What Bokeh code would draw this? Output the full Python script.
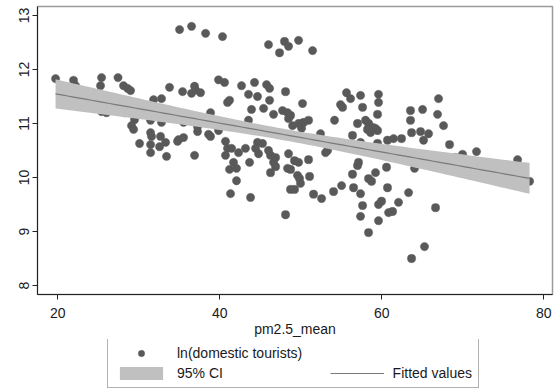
import numpy as np
from bokeh.plotting import figure
from bokeh.layouts import column
from bokeh.models import Legend, LegendItem, FixedTicker, Range1d
from bokeh.embed import file_html
from bokeh.resources import INLINE

# ---- data ----
pm25 = [19.72, 21.94, 22.19, 25.40, 25.27, 27.43, 28.11, 28.61, 28.98, 25.40,
        26.01, 28.24, 29.47, 29.10, 29.35, 30.09, 31.45, 31.45, 32.56, 33.30,
        33.42, 34.78, 31.82, 32.80, 33.79, 35.40, 31.45, 32.80, 31.45, 31.57,
        32.68, 35.03, 36.51, 38.24, 40.33, 39.84, 40.58, 42.68, 36.51, 36.88,
        37.00, 37.62, 40.95, 41.20, 38.85, 35.52, 37.25, 37.25, 38.61, 38.85,
        39.84, 34.90, 35.52, 36.88, 40.70, 40.95, 41.45, 40.70, 42.31, 41.69,
        41.20, 42.06, 42.06, 41.32, 43.17, 46.01, 47.37, 47.99, 48.48, 49.72,
        51.45, 44.28, 45.77, 46.14, 43.54, 44.65, 48.11, 46.14, 43.91, 45.40,
        46.63, 47.74, 48.36, 48.73, 48.48, 50.21, 48.98, 49.72, 50.33, 50.95,
        50.09, 52.43, 54.16, 54.90, 55.15, 55.64, 44.65, 45.27, 44.41, 44.78,
        43.67, 46.01, 46.26, 46.88, 46.63, 46.88, 46.26, 48.48, 49.22, 49.72,
        50.95, 48.36, 48.73, 49.59, 49.84, 49.96, 51.08, 48.73, 49.22, 51.57,
        52.56, 54.04, 55.03, 43.79, 48.11, 53.05, 53.30, 43.54, 56.14, 57.37,
        59.59, 59.59, 57.62, 59.47, 57.99, 58.36, 57.00, 58.23, 58.61, 59.22,
        59.47, 58.85, 56.38, 60.70, 61.45, 62.43, 63.54, 63.54, 65.03, 66.88,
        67.00, 67.62, 63.67, 64.78, 65.15, 65.77, 57.37, 59.47, 57.12, 57.00,
        56.38, 59.22, 60.58, 58.36, 58.73, 56.51, 57.37, 60.70, 63.30, 64.04,
        59.59, 59.96, 57.62, 62.06, 60.83, 61.32, 57.37, 59.59, 58.36, 66.63,
        65.27, 63.67, 68.36, 69.96, 69.10, 71.69, 76.76, 78.24]

ln_tourists = [11.83, 11.80, 11.70, 11.85, 11.70, 11.85, 11.70, 11.65, 11.61, 11.22,
               11.20, 11.20, 11.07, 10.96, 10.89, 10.63, 10.61, 10.46, 10.57, 10.65,
               10.39, 10.67, 11.44, 11.46, 11.67, 11.59, 11.06, 11.02, 10.83, 10.76,
               10.76, 12.74, 12.80, 12.67, 12.61, 11.81, 11.76, 11.70, 11.56, 11.69,
               11.62, 11.57, 11.39, 11.43, 11.20, 11.02, 10.94, 10.85, 10.80, 10.76,
               10.87, 10.70, 10.74, 10.41, 10.67, 10.54, 10.54, 10.41, 10.46, 10.28,
               10.15, 10.17, 9.94, 9.70, 10.54, 12.46, 12.31, 12.52, 12.43, 12.54,
               12.35, 11.76, 11.72, 11.65, 11.54, 11.50, 11.59, 11.43, 11.26, 11.28,
               11.17, 11.24, 11.20, 11.15, 11.09, 11.37, 10.96, 11.00, 11.02, 11.06,
               10.91, 10.81, 11.06, 11.35, 11.30, 11.57, 10.65, 10.63, 10.54, 10.44,
               10.28, 10.50, 10.41, 10.37, 10.28, 10.20, 10.09, 10.44, 10.31, 10.28,
               10.33, 10.17, 10.15, 10.04, 9.98, 9.89, 10.02, 9.78, 9.78, 9.69,
               9.61, 9.74, 9.85, 9.63, 9.31, 10.46, 10.50, 11.06, 11.46, 11.52,
               11.54, 11.39, 11.30, 11.17, 11.06, 11.00, 11.00, 10.89, 10.83, 10.91,
               10.87, 10.93, 10.78, 10.69, 10.72, 10.72, 11.24, 11.06, 11.26, 11.17,
               11.46, 10.96, 10.83, 10.85, 10.69, 10.81, 10.65, 10.63, 10.28, 10.22,
               10.06, 10.09, 10.19, 9.98, 9.93, 9.81, 9.70, 9.81, 9.72, 10.17,
               9.50, 9.56, 9.48, 9.54, 9.35, 9.37, 9.28, 9.20, 8.98, 9.44,
               8.72, 8.50, 10.61, 10.43, 10.37, 10.48, 10.33, 9.93]

x_ticks = [20, 40, 60, 80]
y_ticks = [8, 9, 10, 11, 12, 13]
x_title = "pm2.5_mean"
legend_labels = ["ln(domestic tourists)", "95% CI", "Fitted values"]

# ---- linear fit with 95% CI of the mean (as Stata lfitci) ----
x = np.array(pm25)
y = np.array(ln_tourists)
n = len(x)
b, a = np.polyfit(x, y, 1)
xs = np.linspace(x.min(), x.max(), 80)
yhat = a + b * xs
resid = y - (a + b * x)
s = np.sqrt((resid ** 2).sum() / (n - 2))
sxx = ((x - x.mean()) ** 2).sum()
se = s * np.sqrt(1.0 / n + (xs - x.mean()) ** 2 / sxx)
tcrit = 1.973
lo = yhat - tcrit * se
hi = yhat + tcrit * se

FONT = "Liberation Sans"
TXT = "#1a1a1a"
PT = dict(size=8.3, fill_color="#595959", line_color="#595959", line_width=0.4)
CI = dict(fill_color="#c0c0c0", fill_alpha=1.0)
FIT = dict(line_color="#7a7a7a", line_width=1.2)

p = figure(width=555, height=339, output_backend="svg", toolbar_location=None,
           x_range=Range1d(17.49, 81.07), y_range=Range1d(7.833, 13.167),
           min_border_left=37, min_border_right=3, min_border_top=6,
           min_border_bottom=45, background_fill_color="white",
           border_fill_color="white")

p.scatter(x=pm25, y=ln_tourists, **PT)
p.varea(x=xs, y1=lo, y2=hi, **CI)
p.line(x=xs, y=yhat, **FIT)

p.grid.visible = False
p.outline_line_color = "#9a9a9a"
p.outline_line_width = 1.5

p.xaxis.ticker = FixedTicker(ticks=x_ticks)
p.yaxis.ticker = FixedTicker(ticks=y_ticks)
p.xaxis.axis_label = x_title
for ax in (p.xaxis[0], p.yaxis[0]):
    ax.major_tick_in = 0
    ax.major_tick_out = 5
    ax.minor_tick_line_color = None
    ax.axis_line_color = "#222222"
    ax.major_tick_line_color = "#222222"
    ax.major_label_text_font = FONT
    ax.major_label_text_font_size = "14px"
    ax.major_label_text_color = TXT
p.xaxis.major_label_standoff = 8
p.xaxis.axis_label_standoff = 0
p.xaxis.axis_label_text_font = FONT
p.xaxis.axis_label_text_font_size = "14px"
p.xaxis.axis_label_text_font_style = "normal"
p.xaxis.axis_label_text_color = TXT
p.yaxis.major_label_orientation = "vertical"
p.yaxis.major_label_standoff = 3

# ---- legend strip: its own small figure below the axis; the same series are
# drawn there outside its visible range so that only the legend shows ----
lf = figure(width=555, height=50, output_backend="svg", toolbar_location=None,
            x_range=Range1d(0, 1), y_range=Range1d(0, 1),
            min_border_left=37, min_border_right=3, min_border_top=0,
            min_border_bottom=0, x_axis_location=None, y_axis_location=None,
            background_fill_color="white", border_fill_color="white")
lf.grid.visible = False
lf.outline_line_color = None
l_sc = lf.scatter(x=pm25, y=ln_tourists, **PT)
l_ci = lf.varea(x=xs, y1=lo, y2=hi, **CI)
l_fit = lf.line(x=xs, y=yhat, **FIT)
l_blank = lf.scatter(x=pm25, y=ln_tourists, fill_alpha=0, line_alpha=0)

legend = Legend(items=[
    LegendItem(label=legend_labels[0] + "\u00a0" * 6, renderers=[l_sc]),
    LegendItem(label=legend_labels[1], renderers=[l_ci]),
    LegendItem(label=" ", renderers=[l_blank]),
    LegendItem(label=legend_labels[2], renderers=[l_fit]),
], orientation="vertical", nrows=2, location=(70, 1), margin=0,
    padding=6, spacing=4, glyph_width=54, glyph_height=16, label_height=16,
    label_standoff=9, label_text_font=FONT, label_text_font_size="14px",
    label_text_color=TXT, border_line_color="#666666", border_line_width=1,
    background_fill_color="white", background_fill_alpha=1.0)
lf.add_layout(legend, "center")

layout = column(p, lf, spacing=0)
open("out.html", "w").write(file_html(layout, INLINE))
